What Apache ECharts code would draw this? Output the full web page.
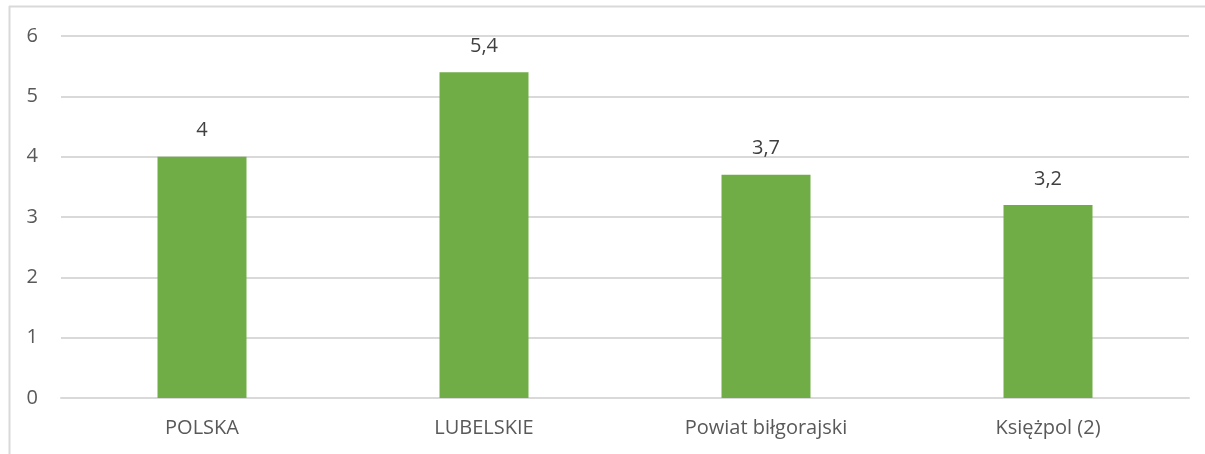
<!DOCTYPE html>
<html>
<head>
<meta charset="utf-8">
<script src="https://cdn.jsdelivr.net/npm/echarts@6/dist/echarts.min.js"></script>
<style>
  html, body { margin: 0; padding: 0; background: #fff; }
  #main { width: 1205px; height: 454px; }
</style>
</head>
<body>
<div id="main"></div>
<script>
// dane
const categories = ['POLSKA', 'LUBELSKIE', 'Powiat biłgorajski', 'Księżpol (2)'];
const values = [4, 5.4, 3.7, 3.2];
const yTicks = [0, 1, 2, 3, 4, 5, 6];

const chart = echarts.init(document.getElementById('main'), null, { renderer: 'canvas' });

const font = '"Open Sans", "DejaVu Sans", sans-serif';

chart.setOption({
  animation: false,
  graphic: [
    // ramka wykresu (górna i lewa krawędź)
    { type: 'line', shape: { x1: 9, y1: 6.5, x2: 1205, y2: 6.5 }, style: { stroke: '#d9d9d9', lineWidth: 2 } },
    { type: 'line', shape: { x1: 9.5, y1: 6, x2: 9.5, y2: 454 }, style: { stroke: '#d9d9d9', lineWidth: 2 } }
  ],
  grid: { left: 61, right: 16, top: 36, bottom: 56 },
  xAxis: {
    type: 'category',
    data: categories,
    axisLine: { show: true, lineStyle: { color: '#d9d9d9', width: 2 } },
    axisTick: { show: false },
    axisLabel: { color: '#595959', fontSize: 20, fontFamily: font, margin: 20 }
  },
  yAxis: {
    type: 'value',
    min: yTicks[0],
    max: yTicks[yTicks.length - 1],
    interval: 1,
    axisLine: { show: false },
    axisTick: { show: false },
    splitLine: { lineStyle: { color: '#d9d9d9', width: 2 } },
    axisLabel: { color: '#595959', fontSize: 20, fontFamily: font, margin: 23 }
  },
  series: [{
    type: 'bar',
    data: values,
    barWidth: 89,
    itemStyle: { color: '#70ad47' },
    label: {
      show: true,
      position: 'top',
      distance: 16,
      color: '#404040',
      fontSize: 20,
      fontFamily: font,
      formatter: p => String(p.value).replace('.', ',')
    }
  }]
});
</script>
</body>
</html>
